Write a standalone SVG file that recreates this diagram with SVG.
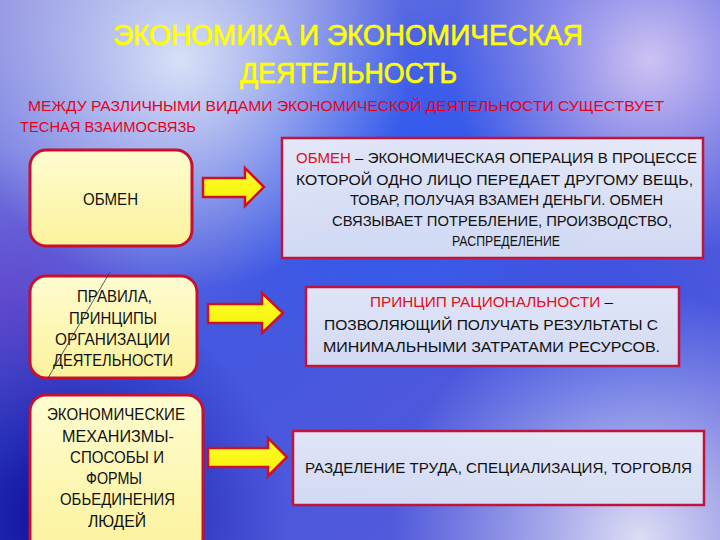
<svg xmlns="http://www.w3.org/2000/svg" width="720" height="540" viewBox="0 0 720 540">
<style>
.t{font-family:"Liberation Sans",Arial,sans-serif;}
.title{fill:#ffff00;font-size:30px;stroke:#ffff00;stroke-width:0.7;}
.sub{fill:#e8001c;font-size:15px;}
.lbox{fill:url(#yel);stroke:#c8102e;stroke-width:3;}
.rbox{fill:url(#pale);stroke:#c0143c;stroke-width:2.5;}
.ltxt{fill:#111;font-size:16.5px;}
.rtxt{fill:#111;font-size:14.5px;}
.red{fill:#e0101c;}
.arr{fill:url(#arrf);stroke:#d01020;stroke-width:2.5;stroke-linejoin:miter;}
</style>
<defs>
<linearGradient id="base" x1="0" y1="0" x2="1" y2="1">
<stop offset="0" stop-color="#8c8ce0"/>
<stop offset="0.45" stop-color="#4458e0"/>
<stop offset="1" stop-color="#5a5ad8"/>
</linearGradient>
<radialGradient id="g1" cx="180" cy="60" r="230" gradientUnits="userSpaceOnUse">
<stop offset="0" stop-color="#dce6f8" stop-opacity="0.95"/>
<stop offset="1" stop-color="#dce6f8" stop-opacity="0"/>
</radialGradient>
<radialGradient id="g2" cx="650" cy="60" r="200" gradientUnits="userSpaceOnUse">
<stop offset="0" stop-color="#d6c8f4" stop-opacity="0.95"/>
<stop offset="1" stop-color="#c8b8f0" stop-opacity="0"/>
</radialGradient>
<radialGradient id="g3" cx="640" cy="540" r="250" gradientUnits="userSpaceOnUse">
<stop offset="0" stop-color="#e4e4f6" stop-opacity="0.95"/>
<stop offset="1" stop-color="#d0d4f2" stop-opacity="0"/>
</radialGradient>
<radialGradient id="g4" cx="60" cy="520" r="230" gradientUnits="userSpaceOnUse">
<stop offset="0" stop-color="#0c0c98" stop-opacity="1"/>
<stop offset="1" stop-color="#1414a0" stop-opacity="0"/>
</radialGradient>
<radialGradient id="g5" cx="400" cy="180" r="200" gradientUnits="userSpaceOnUse">
<stop offset="0" stop-color="#2a5af2" stop-opacity="0.9"/>
<stop offset="1" stop-color="#2a5af2" stop-opacity="0"/>
</radialGradient>
<radialGradient id="g6" cx="10" cy="300" r="150" gradientUnits="userSpaceOnUse">
<stop offset="0" stop-color="#6040c8" stop-opacity="0.8"/>
<stop offset="1" stop-color="#6040c8" stop-opacity="0"/>
</radialGradient>
<radialGradient id="g7" cx="600" cy="320" r="170" gradientUnits="userSpaceOnUse">
<stop offset="0" stop-color="#3850e4" stop-opacity="0.85"/>
<stop offset="1" stop-color="#3850e4" stop-opacity="0"/>
</radialGradient>
<linearGradient id="yel" x1="0" y1="0" x2="0" y2="1">
<stop offset="0" stop-color="#fffcd0"/>
<stop offset="1" stop-color="#fbf29c"/>
</linearGradient>
<linearGradient id="pale" x1="0" y1="0" x2="0" y2="1">
<stop offset="0" stop-color="#e8ecf8" stop-opacity="0.95"/>
<stop offset="1" stop-color="#d8e0f4" stop-opacity="0.95"/>
</linearGradient>
<linearGradient id="arrf" x1="0" y1="0" x2="0" y2="1">
<stop offset="0" stop-color="#ffff30"/>
<stop offset="1" stop-color="#f4f000"/>
</linearGradient>
</defs>

<g id="background">
<rect width="720" height="540" fill="url(#base)"/>
<rect width="720" height="540" fill="url(#g5)"/>
<rect width="720" height="540" fill="url(#g7)"/>
<rect width="720" height="540" fill="url(#g6)"/>
<rect width="720" height="540" fill="url(#g1)"/>
<rect width="720" height="540" fill="url(#g2)"/>
<rect width="720" height="540" fill="url(#g3)"/>
<rect width="720" height="540" fill="url(#g4)"/>
</g>

<g id="title" class="t">
<text class="title" x="113" y="45" textLength="470" lengthAdjust="spacingAndGlyphs">ЭКОНОМИКА И ЭКОНОМИЧЕСКАЯ</text>
<text class="title" x="240" y="83" textLength="217" lengthAdjust="spacingAndGlyphs">ДЕЯТЕЛЬНОСТЬ</text>
</g>

<g id="subtitle" class="t">
<text class="sub" x="28" y="111" textLength="636" lengthAdjust="spacingAndGlyphs">МЕЖДУ РАЗЛИЧНЫМИ ВИДАМИ  ЭКОНОМИЧЕСКОЙ  ДЕЯТЕЛЬНОСТИ СУЩЕСТВУЕТ</text>
<text class="sub" x="20" y="132" textLength="176" lengthAdjust="spacingAndGlyphs">ТЕСНАЯ ВЗАИМОСВЯЗЬ</text>
</g>

<g id="node-obmen" class="t">
<rect class="lbox" x="30" y="150" width="162" height="96" rx="16"/>
<text class="ltxt" x="83" y="205" textLength="55" lengthAdjust="spacingAndGlyphs">ОБМЕН</text>
</g>

<g id="node-pravila" class="t">
<rect class="lbox" x="30" y="276" width="167" height="102" rx="16"/>
<text class="ltxt" x="77" y="302" textLength="75" lengthAdjust="spacingAndGlyphs">ПРАВИЛА,</text>
<text class="ltxt" x="69" y="324" textLength="88" lengthAdjust="spacingAndGlyphs">ПРИНЦИПЫ</text>
<text class="ltxt" x="55" y="345" textLength="115" lengthAdjust="spacingAndGlyphs">ОРГАНИЗАЦИИ</text>
<text class="ltxt" x="53" y="366" textLength="120" lengthAdjust="spacingAndGlyphs">ДЕЯТЕЛЬНОСТИ</text>
<line x1="110" y1="272" x2="48" y2="378" stroke="#333" stroke-width="0.8"/>
</g>

<g id="node-mechanizmy" class="t">
<rect class="lbox" x="30" y="395" width="173" height="160" rx="16"/>
<text class="ltxt" x="47" y="420" textLength="138" lengthAdjust="spacingAndGlyphs">ЭКОНОМИЧЕСКИЕ</text>
<text class="ltxt" x="62" y="442" textLength="112" lengthAdjust="spacingAndGlyphs">МЕХАНИЗМЫ-</text>
<text class="ltxt" x="70" y="463" textLength="94" lengthAdjust="spacingAndGlyphs">СПОСОБЫ И</text>
<text class="ltxt" x="86" y="484" textLength="56" lengthAdjust="spacingAndGlyphs">ФОРМЫ</text>
<text class="ltxt" x="60" y="505" textLength="115" lengthAdjust="spacingAndGlyphs">ОБЬЕДИНЕНИЯ</text>
<text class="ltxt" x="88" y="527" textLength="58" lengthAdjust="spacingAndGlyphs">ЛЮДЕЙ</text>
</g>

<g id="node-obmen-def" class="t">
<rect class="rbox" x="282" y="138" width="421" height="120"/>
<text class="rtxt" x="296" y="163" textLength="401" lengthAdjust="spacingAndGlyphs"><tspan class="red">ОБМЕН</tspan> – ЭКОНОМИЧЕСКАЯ  ОПЕРАЦИЯ В ПРОЦЕССЕ</text>
<text class="rtxt" x="296" y="185" textLength="397" lengthAdjust="spacingAndGlyphs">КОТОРОЙ  ОДНО ЛИЦО ПЕРЕДАЕТ ДРУГОМУ ВЕЩЬ,</text>
<text class="rtxt" x="350" y="205" textLength="313" lengthAdjust="spacingAndGlyphs">ТОВАР, ПОЛУЧАЯ ВЗАМЕН ДЕНЬГИ. ОБМЕН</text>
<text class="rtxt" x="332" y="226" textLength="340" lengthAdjust="spacingAndGlyphs">СВЯЗЫВАЕТ  ПОТРЕБЛЕНИЕ,  ПРОИЗВОДСТВО,</text>
<text class="rtxt" x="452" y="246" textLength="108" lengthAdjust="spacingAndGlyphs">РАСПРЕДЕЛЕНИЕ</text>
</g>

<g id="node-princip" class="t">
<rect class="rbox" x="306" y="287" width="373" height="79"/>
<text class="rtxt" x="370" y="307" textLength="243" lengthAdjust="spacingAndGlyphs"><tspan class="red">ПРИНЦИП РАЦИОНАЛЬНОСТИ</tspan> –</text>
<text class="rtxt" x="324" y="330" textLength="334" lengthAdjust="spacingAndGlyphs">ПОЗВОЛЯЮЩИЙ ПОЛУЧАТЬ РЕЗУЛЬТАТЫ С</text>
<text class="rtxt" x="323" y="352" textLength="337" lengthAdjust="spacingAndGlyphs">МИНИМАЛЬНЫМИ ЗАТРАТАМИ РЕСУРСОВ.</text>
</g>

<g id="node-razdelenie" class="t">
<rect class="rbox" x="293" y="431" width="411" height="74"/>
<text class="rtxt" x="305" y="473" textLength="387" lengthAdjust="spacingAndGlyphs">РАЗДЕЛЕНИЕ ТРУДА, СПЕЦИАЛИЗАЦИЯ, ТОРГОВЛЯ</text>
</g>

<g id="connectors">
<path class="arr" d="M203,178 L245,178 L245,168 L264,187 L245,206 L245,197 L203,197 Z"/>
<path class="arr" d="M208,304 L262,304 L262,293 L283,313 L262,333 L262,323 L208,323 Z"/>
<path class="arr" d="M208,448 L268,448 L268,438 L287,457 L268,476 L268,467 L208,467 Z"/>
</g>
</svg>
